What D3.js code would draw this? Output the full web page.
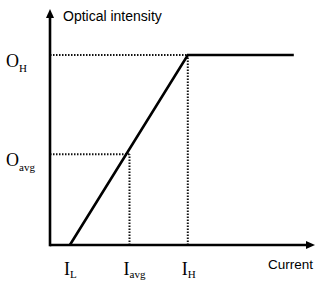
<!DOCTYPE html>
<html><head><meta charset="utf-8">
<script src="https://cdn.jsdelivr.net/npm/d3@7"></script>
<style>body{margin:0;background:#fff}svg{display:block}</style>
</head><body>
<script>
// data
const curveCurrent = [0.75, 5.2, 9.2];
const curveIntensity = [0, 8.05, 8.05];
const markCurrent = [0.75, 3.0, 5.2];
const markCurrentLabels = [["I","L"],["I","avg"],["I","H"]];
const markIntensity = [8.05, 3.85];
const markIntensityLabels = [["O","H"],["O","avg"]];
const guideCurrent = [3.0, 5.2];   // vertical dotted guides
const guideIntensity = [3.85, 8.05];
const axisTitles = {x: "Current", y: "Optical intensity"};

const W = 327, H = 286;
const svg = d3.select("body").append("svg").attr("width", W).attr("height", H);
const x = d3.scaleLinear().domain([0, 10]).range([50, 315]);
const y = d3.scaleLinear().domain([0, 10]).range([245, 9]);

// dotted guides
guideIntensity.forEach((v, i) => {
  const xe = i === 0 ? guideCurrent[0] : guideCurrent[1];
  svg.append("line").attr("x1", x(0)).attr("x2", x(xe)).attr("y1", y(v)).attr("y2", y(v))
    .attr("stroke", "#111").attr("stroke-width", 2).attr("stroke-dasharray", "1.5,1.5");
});
guideCurrent.forEach((v, i) => {
  const ye = i === 0 ? guideIntensity[0] : guideIntensity[1];
  svg.append("line").attr("x1", x(v)).attr("x2", x(v)).attr("y1", y(0)).attr("y2", y(ye))
    .attr("stroke", "#111").attr("stroke-width", 2).attr("stroke-dasharray", "1.5,1.5");
});

// curve
const pts = curveCurrent.map((c, i) => [c, curveIntensity[i]]);
svg.append("path").attr("d", d3.line().x(d => x(d[0])).y(d => y(d[1]))(pts))
  .attr("fill", "none").attr("stroke", "#000").attr("stroke-width", 2.6);

// axes
svg.append("line").attr("x1", x(0)).attr("x2", x(10) - 6).attr("y1", y(0)).attr("y2", y(0))
  .attr("stroke", "#000").attr("stroke-width", 2.6);
svg.append("line").attr("x1", x(0)).attr("x2", x(0)).attr("y1", y(0) + 1.3).attr("y2", y(10) + 6)
  .attr("stroke", "#000").attr("stroke-width", 2.6);
const xe = x(10), yb = y(0);
svg.append("path").attr("d", `M${xe},${yb} L${xe - 9},${yb - 4} L${xe - 9},${yb + 4} Z`).attr("fill", "#000");
const xa = x(0), yt = y(10);
svg.append("path").attr("d", `M${xa},${yt} L${xa - 4},${yt + 9} L${xa + 4},${yt + 9} Z`).attr("fill", "#000");

// axis titles
svg.append("text").attr("x", 63).attr("y", 21).text(axisTitles.y)
  .attr("font-family", "Liberation Sans, Arial, sans-serif").attr("font-size", 14);
svg.append("text").attr("x", 313).attr("y", 269).attr("text-anchor", "end").text(axisTitles.x)
  .attr("font-family", "Liberation Sans, Arial, sans-serif").attr("font-size", 13.5);

// labels
const serif = "Liberation Serif, Times New Roman, serif";
markCurrent.forEach((v, i) => {
  const t = svg.append("text").attr("x", x(v) - 6).attr("y", 275)
    .attr("font-family", serif).attr("font-size", 18);
  t.append("tspan").text(markCurrentLabels[i][0]);
  t.append("tspan").attr("font-size", 11).attr("dy", 3).text(markCurrentLabels[i][1]);
});
markIntensity.forEach((v, i) => {
  const t = svg.append("text").attr("x", 6).attr("y", y(v) + 12)
    .attr("font-family", serif).attr("font-size", 18);
  t.append("tspan").text(markIntensityLabels[i][0]);
  t.append("tspan").attr("font-size", 11).attr("dy", 5).text(markIntensityLabels[i][1]);
});
</script>
</body></html>
